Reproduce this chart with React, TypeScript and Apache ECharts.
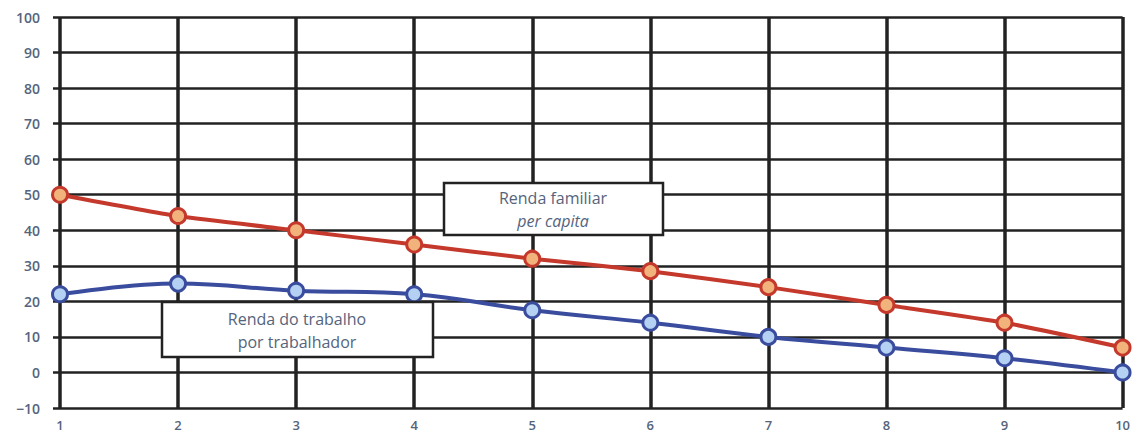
import React, { useEffect, useRef } from "react";
import * as echarts from "echarts";

const xValues = [1, 2, 3, 4, 5, 6, 7, 8, 9, 10];
const rendaFamiliar = [50, 44, 40, 36, 32, 28.5, 24, 19, 14, 7];
const rendaTrabalho = [22, 25, 23, 22, 17.5, 14, 10, 7, 4, 0];
const labelFamiliar = ["Renda familiar", "per capita"];
const labelTrabalho = ["Renda do trabalho", "por trabalhador"];

const FONT = "'Open Sans', 'Noto Sans', sans-serif";
const TEXT_COLOR = "#55647c";
const GRID_COLOR = "#222222";

export default function App() {
  const ref = useRef<HTMLDivElement>(null);
  useEffect(() => {
    document.body.style.margin = "0";
    const chart = echarts.init(ref.current!, undefined, { renderer: "svg" });
    const pair = (ys: number[]) => xValues.map((x, i) => [x, ys[i]]);
    const boxText = (t: string, x: number, y: number, italic = false) => ({
      type: "text",
      x,
      y,
      z: 101,
      style: {
        text: t,
        fill: TEXT_COLOR,
        font: `${italic ? "italic " : ""}16px ${FONT}`,
        align: "center",
        verticalAlign: "middle",
      },
    });
    chart.setOption({
      animation: false,
      backgroundColor: "#ffffff",
      grid: { left: 60, right: 9, top: 17, bottom: 28 },
      xAxis: {
        type: "value",
        min: 1,
        max: 10,
        interval: 1,
        axisLine: { show: false },
        axisTick: { show: false },
        axisLabel: { color: TEXT_COLOR, fontFamily: FONT, fontSize: 13, fontWeight: 600, margin: 10 },
        splitLine: { show: true, lineStyle: { color: GRID_COLOR, width: 3.5 } },
      },
      yAxis: {
        type: "value",
        min: -10,
        max: 100,
        interval: 10,
        axisLine: { show: false },
        axisTick: { show: true, length: 7, lineStyle: { color: GRID_COLOR, width: 2.5 } },
        axisLabel: {
          color: TEXT_COLOR,
          fontFamily: FONT,
          fontSize: 14,
          fontWeight: 600,
          margin: 20,
          formatter: (v: number) => String(v).replace("-", "\u2212"),
        },
        splitLine: { show: true, lineStyle: { color: GRID_COLOR, width: 2.5 } },
      },
      series: [
        {
          name: "Renda familiar per capita",
          type: "line",
          data: pair(rendaFamiliar),
          smooth: 0.2,
          symbol: "circle",
          symbolSize: 15,
          lineStyle: { color: "#c4392c", width: 4 },
          itemStyle: { color: "#f2b27c", borderColor: "#c4392c", borderWidth: 3 },
          z: 5,
        },
        {
          name: "Renda do trabalho por trabalhador",
          type: "line",
          data: pair(rendaTrabalho),
          smooth: 0.4,
          symbol: "circle",
          symbolSize: 15,
          lineStyle: { color: "#3a4c9e", width: 4 },
          itemStyle: { color: "#b4d0f2", borderColor: "#3a4c9e", borderWidth: 3 },
          z: 5,
        },
      ],
      graphic: [
        {
          type: "rect",
          z: 100,
          shape: { x: 444, y: 183, width: 219, height: 52 },
          style: { fill: "#ffffff", stroke: GRID_COLOR, lineWidth: 2.5 },
        },
        boxText(labelFamiliar[0], 553, 198),
        boxText(labelFamiliar[1], 553, 221, true),
        {
          type: "rect",
          z: 100,
          shape: { x: 162, y: 302, width: 271, height: 55 },
          style: { fill: "#ffffff", stroke: GRID_COLOR, lineWidth: 2.5 },
        },
        boxText(labelTrabalho[0], 297, 319),
        boxText(labelTrabalho[1], 297, 342),
      ],
    });
    return () => chart.dispose();
  }, []);
  return <div ref={ref} style={{ width: 1133, height: 436 }} />;
}
